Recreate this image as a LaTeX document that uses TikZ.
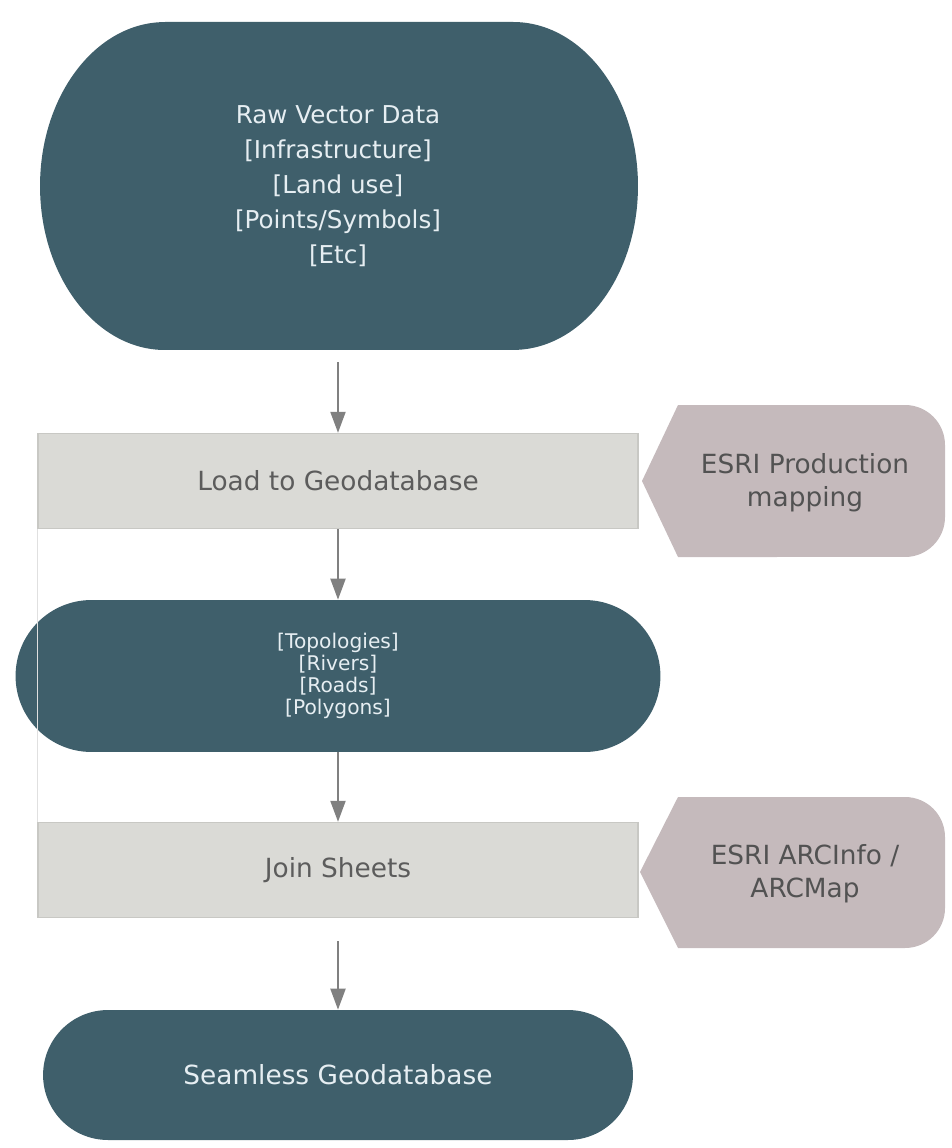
\documentclass[tikz,border=0pt]{standalone}
\usepackage{fontspec}
\setmainfont{DejaVu Sans}
\usetikzlibrary{shapes.misc,arrows.meta}
\definecolor{datateal}{RGB}{63,95,107}
\definecolor{boxgray}{RGB}{218,218,214}
\definecolor{boxedge}{RGB}{200,200,196}
\definecolor{toolmauve}{RGB}{197,186,188}
\definecolor{arrgray}{RGB}{128,128,128}
\definecolor{txtgray}{RGB}{92,92,92}
\definecolor{datatxt}{RGB}{230,238,242}
\tikzset{
  datanode/.style={rounded rectangle, fill=datateal, text=datatxt, align=center, inner sep=0pt},
  procbox/.style={rectangle, fill=boxgray, draw=boxedge, line width=0.8pt, minimum width=12cm, minimum height=1.9cm, text=txtgray, font=\fontsize{15}{18}\selectfont},
  toolnode/.style={text=black!68, align=center, font=\fontsize{15}{19}\selectfont},
  flow/.style={draw=arrgray, line width=1.2pt, -{Triangle[length=0.42cm,width=0.3cm]}},
}

\begin{document}
\begin{tikzpicture}[x=0.02cm,y=-0.02cm]
\useasboundingbox (0,0) rectangle (951,1148);

% main column
\fill[datateal] (165,22) -- (513,22) arc[start angle=90,end angle=-90,x radius=2.5cm,y radius=3.28cm]
  -- (165,350) arc[start angle=270,end angle=90,x radius=2.5cm,y radius=3.28cm] -- cycle;
\node[align=center, text=datatxt, minimum width=12cm, minimum height=6.56cm, inner sep=0pt,
  font=\fontsize{14}{20}\selectfont] (raw) at (338,186)
  {Raw Vector Data\\{}[Infrastructure]\\{}[Land use]\\{}[Points/Symbols]\\{}[Etc]};
\node[procbox] (load) at (338,481) {Load to Geodatabase};
\node[datanode, minimum width=12.9cm, minimum height=3.04cm,
  font=\fontsize{11.5}{12.5}\selectfont] (topo) at (338,676)
  {[Topologies]\\{}[Rivers]\\{}[Roads]\\{}[Polygons]};
\node[procbox] (join) at (338,870) {Join Sheets};
\node[datanode, minimum width=11.8cm, minimum height=2.6cm,
  font=\fontsize{15}{18}\selectfont] (seam) at (338,1075) {Seamless Geodatabase};

% tools on the right
\fill[toolmauve] (642,481) -- (678,405) -- (905,405) arc[start angle=90,end angle=0,radius=0.8cm]
  -- (945,517) arc[start angle=0,end angle=-90,radius=0.8cm] -- (678,557) -- cycle;
\node[toolnode] (prodmap) at (805,483) {ESRI Production\\mapping};
\fill[toolmauve] (640,872) -- (678,797) -- (905,797) arc[start angle=90,end angle=0,radius=0.8cm]
  -- (945,908) arc[start angle=0,end angle=-90,radius=0.8cm] -- (678,948) -- cycle;
\node[toolnode] (arcinfo) at (805,874) {ESRI ARCInfo /\\ARCMap};

% flow
\draw[flow] ([yshift=-0.24cm]raw.south) -- (load.north);
\draw[flow] (load.south) -- (topo.north);
\draw[flow] (topo.south) -- (join.north);
\draw[flow] ([yshift=-0.46cm]join.south) -- (seam.north);
\draw[black!12, line width=0.5pt] (load.south west) -- (join.north west);
\end{tikzpicture}
\end{document}
